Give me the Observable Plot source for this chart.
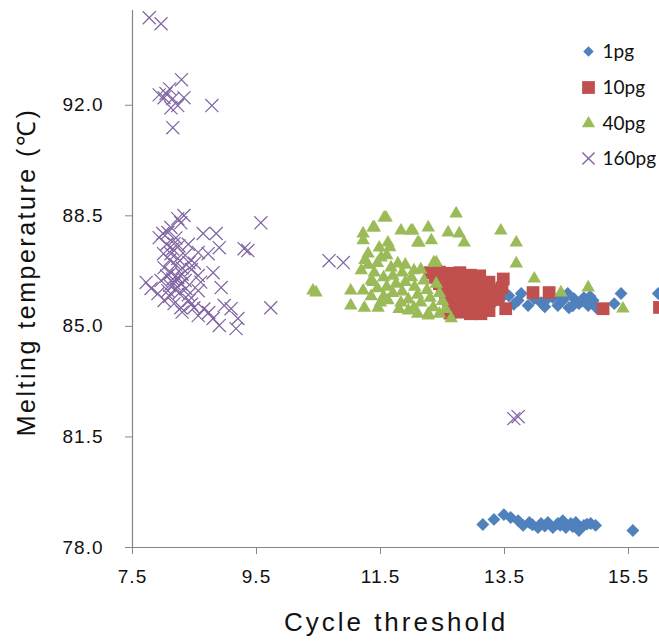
<!DOCTYPE html>
<html>
<head>
<meta charset="utf-8">
<script src="https://cdn.jsdelivr.net/npm/d3@7"></script>
<script src="https://cdn.jsdelivr.net/npm/@observablehq/plot@0.6"></script>
<style>
  html, body { margin: 0; padding: 0; background: #fff; }
  #chart { width: 659px; height: 644px; overflow: hidden; }
</style>
</head>
<body>
<div id="chart"></div>
<script>
// ---- Data (Cycle threshold = Ct, Melting temperature = Tm) ----
const seriesNames = ["1pg", "10pg", "40pg", "160pg"];
const seriesColors = ["#4F81BD", "#C0504D", "#9BBB59", "#8064A2"];

const ct_1pg = [13.15,13.33,13.49,13.60,13.72,13.80,13.90,14.04,14.09,14.20,14.28,14.36,14.44,14.49,14.57,14.65,14.70,14.78,14.89,14.97,15.57,13.95,14.15,14.40,14.60,14.83,
  13.44,13.57,13.72,13.77,13.88,13.98,14.09,14.28,14.36,14.44,14.52,14.54,14.62,14.70,14.78,14.85,14.93,14.98,15.27,15.38,15.98,13.35,14.18,14.40,14.60,14.75,14.15,13.65,14.88];
const tm_1pg = [78.73,78.89,79.04,78.95,78.85,78.70,78.79,78.63,78.76,78.79,78.63,78.76,78.85,78.63,78.76,78.79,78.54,78.70,78.76,78.70,78.54,78.72,78.68,78.70,78.66,78.74,
  85.88,85.97,85.82,86.04,85.66,85.88,85.75,85.91,85.66,85.82,86.04,85.59,85.88,85.72,85.91,85.66,85.82,85.59,85.72,86.04,86.04,85.80,85.85,85.95,85.65,85.80,85.62,85.70,85.95];

const ct_10pg = [12.30,12.38,12.45,12.50,12.55,12.60,12.62,12.45,12.55,12.62,12.68,12.72,12.75,12.78,12.62,12.72,12.80,12.85,12.90,12.92,12.95,
  12.78,12.90,12.98,13.02,13.05,13.08,13.12,12.95,13.08,13.15,13.20,13.22,13.25,13.10,13.25,13.30,13.35,13.48,13.46,13.40,13.52,13.96,14.22,15.09,16.00];
const tm_10pg = [86.70,86.55,86.35,86.15,85.90,85.65,85.42,86.72,86.60,86.40,86.20,85.95,85.70,85.45,86.68,86.55,86.35,86.10,85.85,85.60,85.40,
  86.70,86.50,86.30,86.05,85.80,85.55,85.40,86.62,86.45,86.25,86.00,85.75,85.50,86.60,86.40,86.15,85.85,86.50,86.22,85.95,85.56,86.07,86.07,85.56,85.60];

const ct_40pg = [10.41,10.46,11.02,11.02,11.22,11.22,11.38,11.56,11.40,11.59,11.83,12.02,12.27,11.99,12.59,12.72,12.77,13.44,13.69,13.69,12.85,12.32,12.10,11.62,11.22,12.12,
  13.98,14.41,14.85,15.41,12.64,12.40,
  11.19,11.35,11.48,11.51,11.67,11.78,12.04,12.36,11.62,11.83,12.04,12.27,11.46,11.24,
  11.30,11.30,11.40,11.45,11.35,11.55,11.60,11.55,11.70,11.75,11.70,11.85,11.90,11.85,11.95,12.00,12.05,12.10,12.15,12.20,12.25,12.30,12.35,12.40,12.45,12.50,12.55,
  11.25,11.45,11.60,11.90,12.15,11.65,11.38,11.50,11.80,12.27,12.45,11.95,12.10];
const tm_40pg = [86.13,86.07,86.13,85.66,86.13,87.94,88.13,88.44,88.13,88.44,88.03,88.03,88.13,88.03,87.97,88.57,87.94,88.03,87.65,86.99,87.65,87.72,87.65,87.65,87.72,87.65,
  86.51,86.07,86.23,85.56,85.25,87.02,
  86.77,86.45,87.49,87.18,86.86,86.99,86.77,87.02,85.82,85.75,85.59,85.34,85.59,85.59,
  87.30,86.95,86.70,86.20,85.95,86.55,86.25,85.95,86.60,86.35,86.05,86.70,86.40,86.10,85.85,86.55,86.25,86.00,85.75,86.45,86.15,85.90,85.60,86.35,86.05,85.80,85.55,
  87.10,87.00,87.25,86.95,86.80,87.50,86.40,85.75,85.55,85.40,85.40,85.50,85.40];

const ct_160pg = [7.77,7.96,8.29,8.10,7.93,8.01,8.15,8.33,8.23,8.12,8.78,8.15,8.04,
  8.33,8.23,8.28,8.12,7.99,7.93,8.07,8.64,8.85,9.57,9.30,9.36,8.90,8.56,8.72,8.17,8.12,8.23,8.41,8.01,8.80,8.56,8.12,8.23,8.28,7.72,7.80,7.91,8.07,8.36,8.56,8.93,
  8.01,8.17,8.28,8.49,8.41,8.98,9.09,9.73,8.73,8.80,9.20,8.90,9.17,8.56,7.96,8.17,
  8.05,8.15,8.25,8.10,8.20,8.30,8.05,8.15,8.30,8.10,8.20,8.35,8.25,8.10,8.40,8.45,8.35,8.00,8.20,8.40,8.50,8.60,8.45,8.65,8.30,
  10.67,10.90,13.65,13.72];
const tm_160pg = [94.77,94.58,92.81,92.52,92.33,92.24,92.21,92.24,91.99,91.92,91.99,91.29,92.37,
  88.51,88.41,88.28,88.13,87.94,87.81,87.97,87.94,87.94,88.28,87.46,87.40,87.49,87.34,87.30,87.62,87.30,87.15,87.02,86.86,86.70,86.61,86.70,86.54,86.35,86.39,86.20,86.04,86.13,86.20,86.13,86.23,
  85.82,85.72,85.59,85.59,85.82,85.66,85.56,85.59,85.44,85.25,85.25,85.03,84.93,85.34,86.45,86.35,
  87.60,87.45,87.55,87.10,86.95,86.85,86.60,86.50,86.65,86.30,86.20,86.45,86.05,85.95,86.00,86.80,87.25,87.30,87.80,87.60,87.00,86.40,85.70,85.55,85.45,
  87.08,87.02,82.08,82.14];

const xTicks = [7.5, 9.5, 11.5, 13.5, 15.5];
const yTicks = [78.0, 81.5, 85.0, 88.5, 92.0];
const xDomain = [7.5, 16];
const yDomain = [78, 95];
const xTitle = "Cycle threshold";
const yTitle = "Melting temperature (\u2103)";

// ---- build tables ----
const pts = (xs, ys) => xs.map((x, i) => ({ct: x, tm: ys[i]}));
const d1 = pts(ct_1pg, tm_1pg);
const d10 = pts(ct_10pg, tm_10pg);
const d40 = pts(ct_40pg, tm_40pg);
const d160 = pts(ct_160pg, tm_160pg);

const legendRows = [
  {name: seriesNames[0], symbol: "diamond2", color: seriesColors[0], r: 4.7, dy: 41},
  {name: seriesNames[1], symbol: "square", color: seriesColors[1], r: 7.2, dy: 77},
  {name: seriesNames[2], symbol: "triangle", color: seriesColors[2], r: 4.9, dy: 113},
  {name: seriesNames[3], symbol: "times", color: seriesColors[3], r: 5.6, dy: 148}
];

const legendMarks = legendRows.flatMap(row => [
  row.symbol === "times"
    ? Plot.dot([row], {frameAnchor: "top-right", dx: -71, dy: row.dy, symbol: row.symbol, r: row.r, stroke: row.color, strokeWidth: 1.4})
    : Plot.dot([row], {frameAnchor: "top-right", dx: -71, dy: row.dy, symbol: row.symbol, r: row.r, fill: row.color, stroke: "none"}),
  Plot.text([row], {frameAnchor: "top-right", dx: -57, dy: row.dy, text: "name", textAnchor: "start", lineAnchor: "middle", fontFamily: "Lato", fontSize: 19, fill: "#111"})
]);

const hasAxisMarks = typeof Plot.axisX === "function";
const axisMarks = hasAxisMarks ? [
  Plot.axisX({ticks: xTicks, tickFormat: d3.format(".1f"), tickSize: 7, tickPadding: 15, label: null, fontSize: 19, stroke: "#868686", fill: "#111"}),
  Plot.axisY({ticks: yTicks, tickFormat: d3.format(".1f"), tickSize: 7, tickPadding: 22, label: null, fontSize: 19, stroke: "#868686", fill: "#111"})
] : [];

const chart = Plot.plot({
  width: 659,
  height: 644,
  marginLeft: 132,
  marginRight: 0,
  marginTop: 10,
  marginBottom: 97,
  style: {fontFamily: "'Liberation Sans', Arial, sans-serif", fontSize: "19px", color: "#111", background: "#fff", overflow: "hidden"},
  x: {domain: xDomain, ticks: xTicks, tickFormat: d3.format(".1f"), tickSize: 7, tickPadding: 15, label: null},
  y: {domain: yDomain, ticks: yTicks, tickFormat: d3.format(".1f"), tickSize: 7, tickPadding: 22, label: null},
  marks: [
    ...axisMarks,
    Plot.ruleX([xDomain[0]], {stroke: "#868686", strokeWidth: 1.2}),
    Plot.ruleY([yDomain[0]], {stroke: "#868686", strokeWidth: 1.2, insetLeft: -7}),
    Plot.dot(d1, {x: "ct", y: "tm", symbol: "diamond2", r: 5.8, fill: seriesColors[0], stroke: "none"}),
    Plot.dot(d10, {x: "ct", y: "tm", symbol: "square", r: 7.2, fill: seriesColors[1], stroke: "none"}),
    Plot.dot(d40, {x: "ct", y: "tm", symbol: "triangle", r: 5.0, fill: seriesColors[2], stroke: "none"}),
    Plot.dot(d160, {x: "ct", y: "tm", symbol: "times", r: 6.0, stroke: seriesColors[3], strokeWidth: 1.2}),
    ...legendMarks,
    Plot.text([xTitle], {frameAnchor: "bottom", dy: 75, text: d => d, textAnchor: "middle", lineAnchor: "middle", fontSize: 26, fill: "#111"}),
    Plot.text([yTitle], {frameAnchor: "left", dx: -106, dy: -7, text: d => d, textAnchor: "middle", lineAnchor: "middle", rotate: -90, fontSize: 25, fill: "#111"})
  ]
});

// letter spacing to match the reference's wide setting
const svgSel = d3.select(chart.tagName.toLowerCase() === "svg" ? chart : chart.querySelector("svg"));
const tickLabels = new Set([...xTicks, ...yTicks].map(d3.format(".1f")));
svgSel.selectAll("text").each(function () {
  const t = this.textContent;
  if (t === xTitle) this.setAttribute("letter-spacing", "3px");
  else if (t === yTitle) this.setAttribute("letter-spacing", "2.5px");
  else if (tickLabels.has(t)) this.setAttribute("letter-spacing", "1px");
});

document.getElementById("chart").appendChild(chart);
</script>
</body>
</html>
